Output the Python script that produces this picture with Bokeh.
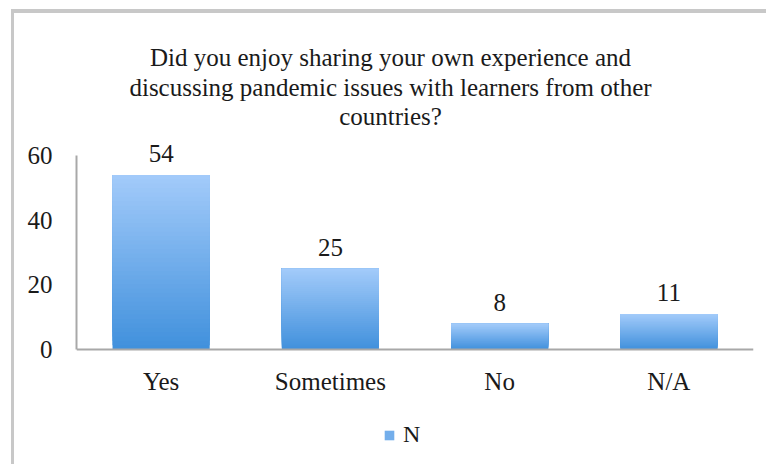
from bokeh.plotting import figure
from bokeh.models import (FactorRange, Range1d, FixedTicker, Label, LabelSet,
                          ColumnDataSource, Legend, LegendItem, Span)
from bokeh.embed import file_html
from bokeh.resources import INLINE

categories = ["Yes", "Sometimes", "No", "N/A"]
values = [54, 25, 8, 11]
y_ticks = [0, 20, 40, 60]
title_lines = ["Did you enjoy sharing your own experience and",
               "discussing pandemic issues with learners from other",
               "countries?"]
series_name = "N"

FONT = "Liberation Serif"
TXT = "#1a1a1a"
AXIS = "#a8a8a8"
TOP_RGB = (163, 203, 250)
BOT_RGB = (64, 144, 220)
NSLICE = 40

p = figure(width=755, height=455, x_range=FactorRange(*categories, range_padding=0),
           y_range=Range1d(-34.94, 100.21), output_backend="svg", toolbar_location=None,
           x_axis_location=None,
           min_border_left=62, min_border_right=16, min_border_top=12,
           min_border_bottom=6)
p.styles = {"border-left": "3px solid #c8c8c8", "border-top": "4px solid #c8c8c8",
            "margin-left": "11px", "margin-top": "9px"}
p.outline_line_color = None
p.grid.visible = False
p.background_fill_color = "white"
p.border_fill_color = "white"

# gradient bars built from overlapping slices of each value
xs, bots, tops, cols = [], [], [], []
for c, v in zip(categories, values):
    for k in range(NSLICE):
        f0 = k / NSLICE
        f1 = (k + 1) / NSLICE
        xs.append(c)
        bots.append(v * f0)
        tops.append(v)
        t = (f0 + f1) / 2
        rgb = tuple(int(round(BOT_RGB[i] + (TOP_RGB[i] - BOT_RGB[i]) * t)) for i in range(3))
        cols.append("#%02x%02x%02x" % rgb)
src = ColumnDataSource(dict(x=xs, bottom=bots, top=tops, color=cols))
r = p.vbar(x="x", bottom="bottom", top="top", width=0.574, fill_color="color",
           line_color=None, source=src)

# baseline (category axis line)
p.add_layout(Span(location=0, dimension="width", line_color=AXIS, line_width=2))

# value labels
lab_src = ColumnDataSource(dict(x=categories, y=values, t=[str(v) for v in values],
                                base=[0] * len(categories)))
p.add_layout(LabelSet(x="x", y="y", text="t", source=lab_src, y_offset=21,
                      text_align="center", text_baseline="middle",
                      text_font=FONT, text_font_size="25px", text_color=TXT))
# category labels
p.add_layout(LabelSet(x="x", y="base", text="x", source=lab_src, y_offset=-32,
                      text_align="center", text_baseline="middle",
                      text_font=FONT, text_font_size="25px", text_color=TXT))

ax = p.yaxis[0]
ax.axis_line_color = AXIS
ax.axis_line_width = 2
ax.major_tick_line_color = None
ax.minor_tick_line_color = None
ax.major_label_text_font = FONT
ax.major_label_text_font_size = "25px"
ax.major_label_text_color = TXT
ax.ticker = FixedTicker(ticks=y_ticks)
ax.bounds = (y_ticks[0], y_ticks[-1])
ax.major_label_standoff = 18

title_y = [405, 375, 346]
for line, yy in zip(title_lines, title_y):
    p.add_layout(Label(x=314, y=yy, x_units="screen", y_units="screen", text=line,
                       text_align="center", text_baseline="middle", text_font=FONT,
                       text_font_size="25px", text_color=TXT))

legend = Legend(items=[LegendItem(label=series_name, renderers=[r], index=NSLICE // 2)],
                location=(307, 14), glyph_width=12, glyph_height=12,
                label_text_font=FONT, label_text_font_size="24px", label_text_color=TXT,
                label_standoff=8, border_line_color=None, background_fill_alpha=0,
                padding=0, margin=0)
p.add_layout(legend)

open("out.html", "w").write(file_html(p, INLINE))
